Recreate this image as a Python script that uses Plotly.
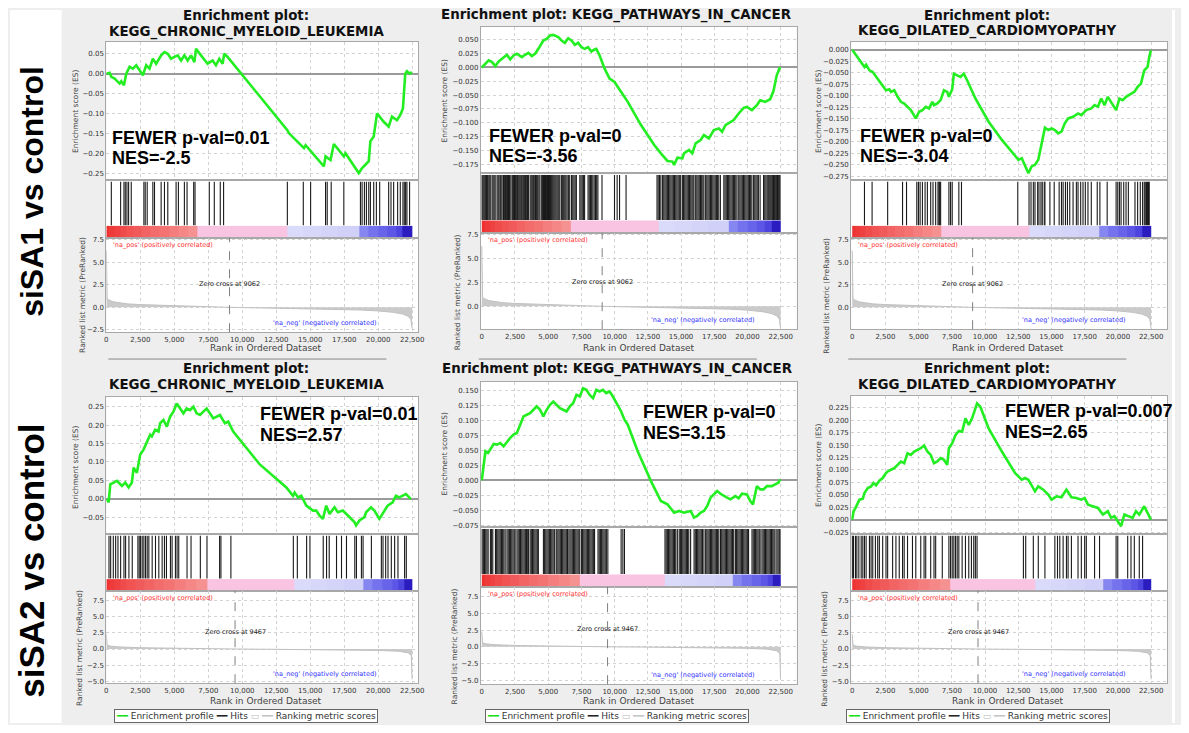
import plotly.graph_objects as go

W, H = 1189, 733          # browser window
OFF = 8                   # default page margin around the plot div
FW, FH = W - 2 * OFF, H - 2 * OFF

# ======================= DATA =======================
row_labels = ["siSA1 vs control", "siSA2 vs control"]
gene_sets = ["KEGG_CHRONIC_MYELOID_LEUKEMIA", "KEGG_PATHWAYS_IN_CANCER", "KEGG_DILATED_CARDIOMYOPATHY",
             "KEGG_CHRONIC_MYELOID_LEUKEMIA", "KEGG_PATHWAYS_IN_CANCER", "KEGG_DILATED_CARDIOMYOPATHY"]
fwer_pvals = ["0.01", "0", "0", "0.01", "0", "0.007"]
nes_values = ["-2.5", "-3.56", "-3.04", "2.57", "3.15", "2.65"]
zero_cross = [9062, 9467]
rank_ticks = [0, 2500, 5000, 7500, 10000, 12500, 15000, 17500, 20000, 22500]

# --- siSA1: CML
cml1_rank = [0, 244, 366, 611, 977, 1099, 1295, 1466, 1710, 1954, 2199, 2443, 2687, 2932, 3176, 3420, 3665, 4031,
             4275, 4519, 4764, 5008, 5252, 5497, 5741, 5985, 6230, 6474, 6596, 6963, 7451, 7818, 8062, 8306, 8551,
             8673, 8917, 13314, 13437, 14536, 14658, 16002, 16124, 16490, 16735, 17467, 17590, 18567, 18811, 19055,
             19300, 19422, 19666, 19911, 20399, 20766, 21010, 21376, 21621, 21816, 21987, 22109, 22305, 22476]
cml1_es = [0.0, 0.002, -0.008, -0.0125, -0.025, -0.019, -0.029, 0.0, 0.017, 0.0125, 0.021, 0.008, -0.004, 0.021,
           0.0125, 0.0375, 0.025, 0.046, 0.054, 0.05, 0.0375, 0.042, 0.046, 0.033, 0.046, 0.033, 0.046, 0.029, 0.0625,
           0.046, 0.025, 0.033, 0.021, 0.0375, 0.025, 0.05, 0.042, -0.142, -0.15, -0.1875, -0.18, -0.233, -0.208,
           -0.217, -0.177, -0.208, -0.2, -0.25, -0.2375, -0.229, -0.22, -0.17, -0.158, -0.1, -0.121, -0.133, -0.108,
           -0.117, -0.104, -0.0875, 0.0, 0.006, 0.0, 0.004]
cml1_hits = [366, 1051, 1295, 1393, 1515, 1637, 1832, 2761, 2858, 3005, 3420, 3542, 4031, 4275, 4520, 5130, 5301,
             5741, 5937, 6425, 6523, 7573, 7940, 8380, 8624, 13314, 14487, 15025, 16124, 16246, 16539, 17468, 18689,
             18811, 18982, 19129, 19300, 19422, 19666, 19862, 20106, 20766, 20937, 21132, 21425, 21621, 21816, 21914,
             22012, 22109, 22305]

# --- siSA1: PATHWAYS IN CANCER
pic1_rank = [0, 274, 523, 772, 1022, 1271, 1520, 1894, 2143, 2392, 2641, 3015, 3264, 3513, 3762, 4012, 4261, 4635,
             4884, 5133, 5382, 5756, 6005, 6254, 6503, 6752, 7002, 7251, 7500, 7749, 7998, 8247, 8497, 8621, 8871,
             9244, 9618, 9992, 10241, 10988, 11985, 12982, 13480, 13978, 14352, 14477, 14726, 15100, 15224, 15598,
             15847, 16096, 16470, 16719, 17093, 17467, 17841, 18090, 18339, 18712, 18962, 19336, 19710, 19958, 20332,
             20706, 20955, 21329, 21702, 21952, 22201, 22450]
pic1_es = [0.0, 0.0068, 0.0128, 0.0098, 0.0026, 0.011, 0.0158, 0.023, 0.0146, 0.0218, 0.0248, 0.0188, 0.023, 0.0266,
           0.0206, 0.0248, 0.0338, 0.0488, 0.0518, 0.0578, 0.059, 0.0548, 0.0488, 0.0446, 0.053, 0.0488, 0.041,
           0.0446, 0.0368, 0.0338, 0.0368, 0.029, 0.0326, 0.0338, 0.0218, -0.0022, -0.0202, -0.0262, -0.0352,
           -0.0622, -0.1042, -0.1402, -0.1552, -0.169, -0.1702, -0.1762, -0.163, -0.1642, -0.1552, -0.1492, -0.1552,
           -0.1372, -0.1312, -0.1222, -0.1282, -0.1132, -0.1102, -0.1162, -0.1042, -0.0982, -0.0952, -0.0832, -0.073,
           -0.0712, -0.0772, -0.0682, -0.0592, -0.0622, -0.0574, -0.043, -0.0142, 0.0008]
pic1_hits = [25, 90, 160, 230, 300, 350, 420, 480, 560, 640, 773, 850, 930, 1010, 1150, 1230, 1300, 1390, 1450, 1530,
             1640, 1700, 1780, 1850, 1930, 2010, 2080, 2140, 2270, 2330, 2400, 2460, 2530, 2600, 2680, 2740, 2810,
             2880, 2950, 3010, 3090, 3160, 3230, 3300, 3380, 3450, 3510, 3640, 3720, 3800, 3880, 3950, 4040, 4130,
             4210, 4300, 4380, 4510, 4580, 4650, 4720, 4800, 4880, 4950, 5020, 5100, 5180, 5260, 5340, 5420, 5500,
             5580, 5660, 5740, 5810, 5880, 6010, 6090, 6170, 6250, 6330, 6420, 6520, 6620, 6760, 6850, 6940, 7030,
             7120, 7380, 7470, 7560, 7650, 7740, 8000, 8090, 8180, 8270, 8360, 8460, 8560, 8650, 8740, 9050, 9990,
             10190, 10370, 10860, 13190, 13280, 13380, 13480, 13610, 13700, 13790, 13880, 13970, 14060, 14150, 14240,
             14330, 14420, 14510, 14600, 14690, 14780, 14870, 14970, 15100, 15190, 15280, 15370, 15460, 15550, 15640,
             15730, 15820, 15900, 15970, 16100, 16190, 16280, 16370, 16460, 16550, 16640, 16720, 16850, 16940, 17030,
             17120, 17210, 17300, 17390, 17480, 17570, 17660, 17750, 17840, 17960, 18220, 18310, 18400, 18490, 18580,
             18670, 18760, 18850, 18940, 19030, 19120, 19210, 19340, 19430, 19520, 19610, 19700, 19790, 19880, 19970,
             20060, 20150, 20240, 20330, 20460, 20550, 20640, 20730, 20820, 20950, 21210, 21300, 21390, 21480, 21560,
             21630, 21700, 21770, 21840, 21900, 21960, 22020, 22080, 22140, 22200, 22260, 22320, 22390, 22450]

# --- siSA1: DILATED CARDIOMYOPATHY
dcm1_rank = [0, 299, 673, 922, 1047, 1296, 1545, 1795, 2168, 2542, 2791, 2916, 3165, 3414, 3664, 3913, 4162, 4411,
             4785, 5034, 5283, 5533, 5782, 6031, 6156, 6405, 6654, 6903, 7152, 7277, 7526, 7651, 7900, 8149, 8398,
             8648, 9271, 10267, 11264, 12261, 12510, 12759, 13258, 13507, 13756, 14005, 14255, 14504, 14753, 15002,
             15251, 15501, 15750, 15999, 16248, 16622, 16996, 17245, 17619, 17993, 18242, 18491, 18740, 18989, 19239,
             19488, 19862, 20111, 20360, 20609, 20858, 21232, 21481, 21731, 21980, 22229, 22354, 22478]
dcm1_es = [0.0, -0.0123, -0.0267, -0.0375, -0.0325, -0.0448, -0.0484, -0.0592, -0.0736, -0.0881, -0.0859, -0.0917,
           -0.0881, -0.1025, -0.1134, -0.117, -0.1242, -0.1314, -0.1495, -0.135, -0.1314, -0.1242, -0.1278, -0.1134,
           -0.1206, -0.117, -0.1097, -0.0881, -0.0917, -0.1025, -0.0859, -0.052, -0.0556, -0.0592, -0.052, -0.0664,
           -0.1061, -0.1567, -0.1964, -0.2325, -0.2397, -0.2361, -0.2686, -0.2541, -0.2505, -0.2397, -0.2072, -0.1697,
           -0.1747, -0.1711, -0.1747, -0.1819, -0.1783, -0.1603, -0.1495, -0.1458, -0.1386, -0.1422, -0.1314, -0.1278,
           -0.1206, -0.1242, -0.1061, -0.1206, -0.1025, -0.1134, -0.1314, -0.1061, -0.1097, -0.1025, -0.0989, -0.0917,
           -0.0809, -0.0736, -0.0448, -0.0375, -0.0159, -0.0014]
dcm1_hits = [922, 1496, 2667, 3788, 4087, 4860, 4984, 5109, 5283, 5483, 5657, 5906, 6081, 6280, 6455, 6529, 6579,
             6654, 7277, 7402, 7526, 8025, 8224, 12460, 13308, 13457, 13632, 13756, 13956, 14055, 14205, 14304, 14454,
             14504, 14878, 15202, 15575, 15750, 15874, 16049, 16198, 16373, 16622, 16871, 16996, 17195, 17370, 17544,
             17743, 17993, 18441, 18641, 19189, 19862, 19986, 20111, 20235, 20435, 20609, 20784, 21282, 21481, 21681,
             21855, 21980, 22055, 22154, 22229, 22304, 22354]

# --- siSA2: CML
cml2_rank = [0, 171, 293, 537, 782, 1026, 1148, 1393, 1637, 1881, 2003, 2248, 2370, 2492, 2736, 2980, 3225, 3347,
             3591, 3836, 3958, 4202, 4446, 4691, 4935, 5179, 5423, 5668, 5912, 6156, 6401, 6645, 6889, 7378, 7866,
             8355, 8722, 8966, 9332, 11287, 13241, 13730, 13852, 14096, 14340, 14707, 15195, 15440, 15684, 15928,
             16173, 16417, 16783, 17028, 17394, 17883, 18249, 18371, 18616, 18982, 19104, 19470, 19715, 20081, 20448,
             20692, 21059, 21303, 21547, 21792, 22036, 22280, 22402]
cml2_es = [0.0, -0.0098, 0.0394, 0.0439, 0.0484, 0.0394, 0.035, 0.0439, 0.0305, 0.0439, 0.0842, 0.0708, 0.1022,
           0.1201, 0.1335, 0.1559, 0.1738, 0.1694, 0.1873, 0.1828, 0.2052, 0.2142, 0.1962, 0.2231, 0.2366, 0.259,
           0.2455, 0.2321, 0.2455, 0.241, 0.25, 0.2321, 0.2276, 0.2455, 0.2186, 0.2276, 0.2052, 0.2097, 0.1828, 0.0932,
           0.0305, 0.0081, 0.017, 0.0036, 0.0081, -0.0188, -0.0322, -0.0322, -0.0457, -0.0546, -0.0188, -0.0412,
           -0.0233, -0.0367, -0.0322, -0.0502, -0.0636, -0.0726, -0.0591, -0.0502, -0.0367, -0.0233, -0.0322, -0.0546,
           -0.0322, -0.0188, -0.0098, 0.0081, 0.0036, 0.0081, 0.0126, 0.0036, -0.001]
cml2_hits = [195, 318, 513, 684, 855, 1050, 1295, 1417, 1661, 1906, 2321, 2419, 2516, 2638, 2761, 2883, 3005, 3127,
             3371, 3616, 3860, 4104, 4275, 4422, 4715, 4837, 5081, 5204, 5326, 5936, 6230, 6914, 7402, 8331, 8428,
             9161, 13754, 14047, 14731, 14976, 15953, 16197, 16393, 16930, 17297, 17663, 18274, 18396, 18762, 18884,
             19495, 20228, 20350, 20545, 20717, 20961, 21205, 21450, 21938, 22061]

# --- siSA2: PATHWAYS IN CANCER
pic2_rank = [0, 150, 274, 473, 648, 897, 1146, 1396, 1645, 1894, 2143, 2392, 2642, 2891, 3140, 3389, 3638, 3888, 4137,
             4386, 4635, 4884, 5134, 5383, 5632, 5881, 6130, 6380, 6629, 6878, 7127, 7376, 7626, 7875, 8124, 8373,
             8622, 8872, 9121, 9370, 9619, 9868, 10491, 10741, 10990, 11737, 12734, 13482, 13980, 14479, 14852, 15226,
             15725, 15974, 16223, 16472, 16722, 16971, 17220, 17469, 17718, 17967, 18217, 18466, 18715, 19089, 19338,
             19587, 19961, 20210, 20409, 20708, 20958, 21207, 21456, 21830, 22079, 22328, 22453]
pic2_es = [0.0, 0.0266, 0.0488, 0.046, 0.0516, 0.061, 0.0599, 0.0627, 0.0571, 0.0644, 0.0711, 0.0766, 0.0794, 0.0933,
           0.1072, 0.11, 0.1127, 0.1183, 0.1239, 0.1183, 0.1072, 0.1183, 0.1266, 0.1322, 0.1266, 0.1211, 0.1183,
           0.1155, 0.1239, 0.1294, 0.1433, 0.1405, 0.1544, 0.1517, 0.1433, 0.1378, 0.1517, 0.1489, 0.1517, 0.1461,
           0.1489, 0.1405, 0.1155, 0.1016, 0.0933, 0.0488, -0.0012, -0.0346, -0.0402, -0.0541, -0.0513, -0.0541,
           -0.0513, -0.0624, -0.0596, -0.0541, -0.0513, -0.0429, -0.029, -0.0235, -0.0179, -0.0224, -0.0263, -0.029,
           -0.0318, -0.0263, -0.0301, -0.0224, -0.0235, -0.0346, -0.0402, -0.0096, -0.0151, -0.0151, -0.0096, -0.0096,
           -0.0068, -0.004, 0.0016]
pic2_hits = [30, 120, 210, 300, 390, 480, 650, 740, 830, 1030, 1120, 1210, 1300, 1390, 1480, 1570, 1660, 1760, 1900,
             1990, 2080, 2170, 2260, 2350, 2440, 2510, 2650, 2740, 2830, 2920, 3010, 3100, 3190, 3280, 3370, 3460,
             3510, 3640, 3730, 3820, 3910, 4000, 4090, 4180, 4260, 4640, 4730, 4820, 4910, 5000, 5090, 5180, 5270,
             5360, 5450, 5500, 5640, 5730, 5820, 5910, 6000, 6090, 6180, 6270, 6360, 6450, 6500, 6630, 6720, 6810,
             6900, 6990, 7080, 7170, 7260, 7370, 7500, 7590, 7680, 7770, 7860, 7950, 8040, 8130, 8220, 8310, 8400,
             8490, 8750, 8840, 8930, 9020, 9110, 9200, 9290, 9380, 9490, 10490, 10620, 10740, 13790, 13880, 13970,
             14060, 14150, 14240, 14330, 14420, 14510, 14600, 14720, 14860, 14950, 15040, 15130, 15220, 15310, 15400,
             15490, 15580, 15720, 15980, 16070, 16160, 16250, 16340, 16430, 16520, 16610, 16720, 16850, 16940, 17030,
             17120, 17210, 17300, 17390, 17480, 17570, 17660, 17750, 17840, 17970, 18060, 18150, 18240, 18330, 18420,
             18510, 18600, 18690, 18780, 18870, 18960, 19090, 19180, 19270, 19360, 19450, 19540, 19630, 19720, 19810,
             19900, 19990, 20080, 20340, 20430, 20520, 20610, 20700, 20790, 20880, 20950, 21090, 21180, 21270, 21360,
             21450, 21540, 21630, 21720, 21810, 21900, 21990, 22070, 22210, 22300, 22390, 22450]

# --- siSA2: DILATED CARDIOMYOPATHY
dcm2_rank = [0, 100, 249, 424, 548, 797, 922, 1171, 1420, 1595, 1794, 2043, 2293, 2542, 2666, 2916, 3165, 3414, 3663,
             3912, 4162, 4411, 4660, 4909, 5158, 5408, 5657, 5906, 6155, 6404, 6654, 6903, 7152, 7277, 7526, 7775,
             8024, 8273, 8523, 8772, 9021, 9395, 9644, 10267, 11264, 12261, 12759, 13008, 13257, 13756, 14005, 14379,
             14753, 15002, 15376, 15749, 16123, 16497, 16871, 17245, 17494, 17743, 18117, 18491, 18864, 19238, 19487,
             19736, 19986, 20235, 20484, 20858, 21107, 21356, 21606, 21979, 22229, 22480]
dcm2_es = [0.0, 0.0169, 0.0236, 0.0336, 0.0402, 0.0422, 0.0536, 0.0636, 0.0669, 0.0736, 0.0689, 0.0783, 0.0836,
           0.0936, 0.0969, 0.1003, 0.1036, 0.1103, 0.1169, 0.1136, 0.1336, 0.1303, 0.137, 0.1403, 0.1436, 0.149, 0.137,
           0.1303, 0.1136, 0.1169, 0.1236, 0.1203, 0.1103, 0.1436, 0.1536, 0.1703, 0.1783, 0.177, 0.2037, 0.1903,
           0.2037, 0.2337, 0.227, 0.1836, 0.137, 0.0936, 0.0803, 0.0836, 0.0803, 0.0569, 0.0669, 0.0603, 0.0503,
           0.0402, 0.0469, 0.0449, 0.0603, 0.0449, 0.0436, 0.0402, 0.0436, 0.0302, 0.0269, 0.0236, 0.0102, 0.0169,
           0.0036, 0.0069, -0.0031, -0.0131, 0.0102, 0.0069, 0.0036, 0.0169, 0.0102, 0.0269, 0.0136, 0.0]
dcm2_hits = [10, 100, 249, 349, 498, 673, 797, 922, 1047, 1296, 1420, 1545, 1744, 1919, 2043, 2293, 2542, 2666, 3040,
             3289, 3539, 3788, 3912, 4162, 4535, 4785, 5158, 5408, 5532, 5906, 6155, 6280, 6778, 7277, 7401, 7526,
             7650, 7775, 7900, 8024, 8273, 8523, 8772, 8971, 9146, 9270, 9395, 12884, 13058, 13631, 14005, 14503,
             15251, 15450, 15624, 15874, 16123, 16247, 16497, 16995, 17245, 17494, 17618, 18241, 18615, 19861, 19986,
             20733, 20982, 21232, 21606, 21855]

# --- ranked list metric (one per comparison)
metric1_rank = [0, 15, 60, 200, 500, 1000, 1600, 2500, 3500, 4500, 6000, 7500, 9062, 11000, 13000, 15000, 17000,
                18700, 20000, 21100, 21800, 22200, 22400, 22470, 22490]
metric1_val = [6.3, 1.3, 0.95, 0.8, 0.62, 0.5, 0.38, 0.3, 0.24, 0.19, 0.13, 0.07, 0.0, -0.05, -0.1, -0.16, -0.23,
               -0.3, -0.4, -0.56, -0.75, -1.0, -1.35, -1.9, -2.35]
metric2_rank = [0, 10, 60, 300, 1000, 2500, 5000, 7500, 9467, 12000, 15000, 18000, 20000, 21500, 22200, 22430,
                22470, 22490]
metric2_val = [2.3, 1.0, 0.6, 0.45, 0.32, 0.2, 0.1, 0.04, 0.0, -0.04, -0.08, -0.15, -0.22, -0.35, -0.6, -1.0,
               -2.5, -4.7]

# --- colour strip (correlation shading along the ranked list)
strip1_edges = [0, 200, 600, 1000, 1500, 2000, 2600, 3200, 3900, 4600, 5300, 6000, 6700, 13300, 14500, 15800, 17000,
                18600, 19300, 20000, 20700, 21300, 21800, 22500]
strip1_vals = [1.0, 0.97, 0.94, 0.9, 0.87, 0.84, 0.8, 0.77, 0.74, 0.7, 0.66, 0.62, 0.1, -0.1, -0.12, -0.15, -0.18,
               -0.45, -0.52, -0.58, -0.64, -0.72, -0.95]
strip2_edges = [0, 200, 600, 1000, 1500, 2100, 2800, 3500, 4200, 5000, 5800, 6600, 7400, 13800, 15000, 16200, 17500,
                18900, 19600, 20300, 21000, 21500, 21900, 22500]
strip2_vals = [1.0, 0.97, 0.94, 0.9, 0.87, 0.84, 0.8, 0.77, 0.74, 0.7, 0.66, 0.62, 0.1, -0.1, -0.12, -0.15, -0.18,
               -0.45, -0.52, -0.58, -0.64, -0.72, -0.95]

panels = [
    dict(rank=cml1_rank, es=cml1_es, hits=cml1_hits, row=0),
    dict(rank=pic1_rank, es=pic1_es, hits=pic1_hits, row=0),
    dict(rank=dcm1_rank, es=dcm1_es, hits=dcm1_hits, row=0),
    dict(rank=cml2_rank, es=cml2_es, hits=cml2_hits, row=1),
    dict(rank=pic2_rank, es=pic2_es, hits=pic2_hits, row=1),
    dict(rank=dcm2_rank, es=dcm2_es, hits=dcm2_hits, row=1),
]
metrics = [(metric1_rank, metric1_val), (metric2_rank, metric2_val)]
strips = [(strip1_edges, strip1_vals), (strip2_edges, strip2_vals)]

# ======================= LAYOUT GEOMETRY (window pixels) =======================
geo = [
    dict(x0=105, x1=419, es=(40, 179), hit=(179, 237), met=(237, 332), xr=[0, 22938], esr=[-0.2675, 0.08],
         esdt=0.05, esfmt=".2f", metr=[-2.76, 7.72], one_line=False, tx=246, ty=(14, 30),
         fx=110, fy=(136.25, 156.75), eslab=(74, 110), metlab=(81, 295), rlab=(266, 348), leg=None),
    dict(x0=482, x1=800, es=(25, 172), hit=(172, 232), met=(232, 329), xr=[-75, 23696], esr=[-0.191, 0.0734],
         esdt=0.025, esfmt=".3f", metr=[-2.4, 7.71], one_line=True, tx=619, ty=(13,),
         fx=489, fy=(134.75, 155.25), eslab=(445, 100), metlab=(458, 292), rlab=(641, 348), leg=None),
    dict(x0=855, x1=1173, es=(40, 179), hit=(179, 237), met=(237, 329), xr=[-75, 23696], esr=[-0.2837, 0.0173],
         esdt=0.025, esfmt=".3f", metr=[-2.43, 7.72], one_line=False, tx=992, ty=(14, 29),
         fx=863, fy=(134.25, 154.75), eslab=(822, 110), metlab=(830, 295), rlab=(1013, 348), leg=None),
    dict(x0=105, x1=419, es=(397, 535), hit=(535, 592), met=(592, 685), xr=[0, 22938], esr=[-0.096, 0.277],
         esdt=0.05, esfmt=".2f", metr=[-5.31, 9.04], one_line=False, tx=246, ty=(369, 385),
         fx=259, fy=(414.75, 435.25), eslab=(74, 468), metlab=(78, 650), rlab=(266, 703), leg=(245.5, 717.5)),
    dict(x0=482, x1=800, es=(382, 528), hit=(528, 588), met=(588, 686), xr=[-75, 23696], esr=[-0.0783, 0.165],
         esdt=0.025, esfmt=".3f", metr=[-5.6, 8.99], one_line=True, tx=620, ty=(369,),
         fx=644, fy=(412.75, 433.25), eslab=(445, 455), metlab=(455, 648), rlab=(641, 703), leg=(619, 717.5)),
    dict(x0=855, x1=1173, es=(396, 535), hit=(535, 592), met=(592, 685), xr=[-75, 23696], esr=[-0.029, 0.249],
         esdt=0.025, esfmt=".3f", metr=[-5.31, 9.04], one_line=False, tx=992, ty=(369, 385),
         fx=1009, fy=(411.75, 432.25), eslab=(822, 466), metlab=(828, 650), rlab=(1013, 703), leg=(983, 717.5)),
]

FONT = "DejaVu Sans"
GRID = "#d2d2d2"
BORDER = "#a8a8a8"
strip_scale = [[0.0, "rgb(35,20,185)"], [0.15, "rgb(80,70,225)"], [0.25, "rgb(120,120,238)"],
               [0.4, "rgb(205,205,248)"], [0.45, "rgb(218,218,250)"], [0.5, "rgb(246,205,230)"],
               [0.55, "rgb(248,196,226)"], [0.8, "rgb(246,150,150)"], [1.0, "rgb(238,50,50)"]]


def px(x):
    return (x - OFF) / FW


def py(y):
    return 1 - (y - OFF) / FH


def sfx(n):
    return "" if n == 1 else str(n)


def note(x, y, text, size, color="#333", family=FONT, weight="normal", xa="center", ya="middle", **kw):
    return dict(xref="paper", yref="paper", x=px(x), y=py(y), text=text, showarrow=False, xanchor=xa,
                yanchor=ya, font=dict(family=family, size=size, color=color, weight=weight), **kw)


fig = go.Figure()
layout = {}
annotations = []
shapes = []

for i, (p, g) in enumerate(zip(panels, geo)):
    ne, nh, nm = 3 * i + 1, 3 * i + 2, 3 * i + 3
    row = p["row"]
    m_rank, m_val = metrics[row]
    s_edges, s_vals = strips[row]

    # --- traces
    fig.add_trace(go.Heatmap(x=s_edges, y=[0, 0.205], z=[s_vals], zmin=-1, zmax=1, colorscale=strip_scale,
                             showscale=False, hoverinfo="skip", xaxis="x" + sfx(nh), yaxis="y" + sfx(nh)))
    hx, hy = [], []
    for h in p["hits"]:
        hx += [h, h, None]
        hy += [0.215, 0.97, None]
    fig.add_trace(go.Scatter(x=hx, y=hy, mode="lines", line=dict(color="#1a1a1a", width=1.1),
                             showlegend=False, hoverinfo="skip", xaxis="x" + sfx(nh), yaxis="y" + sfx(nh)))
    fig.add_trace(go.Scatter(x=p["rank"], y=p["es"], mode="lines", line=dict(color="#22ee22", width=2.6),
                             showlegend=False, hoverinfo="skip", xaxis="x" + sfx(ne), yaxis="y" + sfx(ne)))
    fig.add_trace(go.Scatter(x=m_rank, y=m_val, mode="lines", fill="tozeroy", fillcolor="#cacaca",
                             line=dict(color="#c0c0c0", width=1), showlegend=False, hoverinfo="skip",
                             xaxis="x" + sfx(nm), yaxis="y" + sfx(nm)))

    xdom = [px(g["x0"]), px(g["x1"])]
    base_x = dict(domain=xdom, range=g["xr"], tick0=0, dtick=2500, showline=True, linecolor=BORDER, mirror=True,
                  zeroline=False, ticks="", tickfont=dict(family=FONT, size=7, color="#333"))
    # ES axes
    layout["xaxis" + sfx(ne)] = dict(base_x, anchor="y" + sfx(ne), showticklabels=False, showgrid=True,
                                     gridcolor=GRID, griddash="dot")
    layout["yaxis" + sfx(ne)] = dict(domain=[py(g["es"][1]), py(g["es"][0])], anchor="x" + sfx(ne),
                                     range=g["esr"], tick0=0, dtick=g["esdt"], tickformat=g["esfmt"],
                                     showgrid=True, gridcolor=GRID, griddash="dot", zeroline=True,
                                     zerolinecolor="#9a9a9a", zerolinewidth=1.5, showline=True, linecolor=BORDER,
                                     mirror=True, ticks="", tickfont=dict(family=FONT, size=7, color="#333"))
    # hits axes
    layout["xaxis" + sfx(nh)] = dict(base_x, anchor="y" + sfx(nh), showticklabels=False, showgrid=False)
    layout["yaxis" + sfx(nh)] = dict(domain=[py(g["hit"][1]), py(g["hit"][0])], anchor="x" + sfx(nh),
                                     range=[0, 1], showticklabels=False, showgrid=False, zeroline=False,
                                     showline=True, linecolor=BORDER, mirror=True, ticks="")
    # metric axes
    layout["xaxis" + sfx(nm)] = dict(base_x, anchor="y" + sfx(nm), showticklabels=True, showgrid=True,
                                     gridcolor=GRID, griddash="dot", tickvals=rank_ticks, tickformat=",d")
    layout["yaxis" + sfx(nm)] = dict(domain=[py(g["met"][1]), py(g["met"][0])], anchor="x" + sfx(nm),
                                     range=g["metr"], tick0=0, dtick=2.5, tickformat=".1f", showgrid=True,
                                     gridcolor=GRID, griddash="dot", zeroline=False, showline=True,
                                     linecolor=BORDER, mirror=True, ticks="",
                                     tickfont=dict(family=FONT, size=7, color="#333"))

    # zero-cross line and its labels
    zc = zero_cross[row]
    shapes.append(dict(type="line", xref="x" + sfx(nm), yref="y" + sfx(nm) + " domain", x0=zc, x1=zc, y0=0, y1=1,
                       line=dict(color="#808080", width=1, dash="dash")))
    annotations.append(dict(xref="x" + sfx(nm), yref="y" + sfx(nm), x=zc, y=2.6, text="Zero cross at %d" % zc,
                            showarrow=False, xanchor="center", yanchor="middle",
                            font=dict(family=FONT, size=6.5, color="#222")))
    annotations.append(dict(xref="x" + sfx(nm) + " domain", yref="y" + sfx(nm) + " domain", x=0.015, y=0.985,
                            xanchor="left", yanchor="top", text="'na_pos' (positively correlated)",
                            showarrow=False, font=dict(family=FONT, size=6.5, color="#ff3030")))
    annotations.append(dict(xref="x" + sfx(nm) + " domain", yref="y" + sfx(nm) + " domain", x=0.875, y=0.03,
                            xanchor="right", yanchor="bottom", text="'na_neg' (negatively correlated)",
                            showarrow=False, font=dict(family=FONT, size=6.5, color="#3030ff")))

    # titles
    if g["one_line"]:
        annotations.append(note(g["tx"], g["ty"][0], "Enrichment plot: " + gene_sets[i], 13.4, "#111",
                                weight="bold"))
    else:
        annotations.append(note(g["tx"], g["ty"][0], "Enrichment plot:", 13.4, "#111", weight="bold"))
        annotations.append(note(g["tx"], g["ty"][1], gene_sets[i], 13.4, "#111", weight="bold"))

    # FWER / NES
    annotations.append(note(g["fx"], g["fy"][0], "FEWER p-val=" + fwer_pvals[i], 18, "black",
                            family="Liberation Sans", weight="bold", xa="left", borderpad=0))
    annotations.append(note(g["fx"], g["fy"][1], "NES=" + nes_values[i], 18, "black",
                            family="Liberation Sans", weight="bold", xa="left", borderpad=0))

    # axis titles
    annotations.append(note(g["eslab"][0], g["eslab"][1], "Enrichment score (ES)", 7.5, "#444", textangle=-90))
    annotations.append(note(g["metlab"][0], g["metlab"][1], "Ranked list metric (PreRanked)", 7.5, "#444",
                            textangle=-90))
    annotations.append(note(g["rlab"][0], g["rlab"][1], "Rank in Ordered Dataset", 9, "#444"))

    # legend boxes (bottom row only)
    if g["leg"] is not None:
        annotations.append(note(
            g["leg"][0], g["leg"][1],
            "<span style='color:#10e010'>━━</span> Enrichment profile "
            "<span style='color:#222'>━━</span> Hits "
            "<span style='color:#bbbbbb'>▭</span> <span style='color:#c4c4c4'>━━</span> Ranking metric scores",
            9, "#333", bgcolor="white", bordercolor="#666", borderwidth=1, borderpad=1))

# separators under the top row
for (a, b) in [(107, 387), (480, 760), (852, 1132)]:
    shapes.append(dict(type="line", xref="paper", yref="paper", x0=px(a), x1=px(b), y0=py(359), y1=py(359),
                       line=dict(color="#888", width=1)))

# white strips outside the panel area
shapes.append(dict(type="rect", xref="paper", yref="paper", x0=0, x1=px(60), y0=0, y1=1, fillcolor="white",
                   line=dict(width=0), layer="below"))
shapes.append(dict(type="rect", xref="paper", yref="paper", x0=px(1178), x1=1, y0=0, y1=1, fillcolor="white",
                   line=dict(width=0), layer="below"))

# row labels
for lab, yc, fs in zip(row_labels, [190, 562], [32, 35]):
    annotations.append(note(30, yc, lab, fs, "black", family="Liberation Sans", weight="bold", textangle=-90))

fig.update_layout(width=FW, height=FH, autosize=False, margin=dict(l=0, r=0, t=0, b=0),
                  paper_bgcolor="#eeeeee", plot_bgcolor="white", showlegend=False,
                  annotations=annotations, shapes=shapes, **layout)

fig.write_html("out.html")
